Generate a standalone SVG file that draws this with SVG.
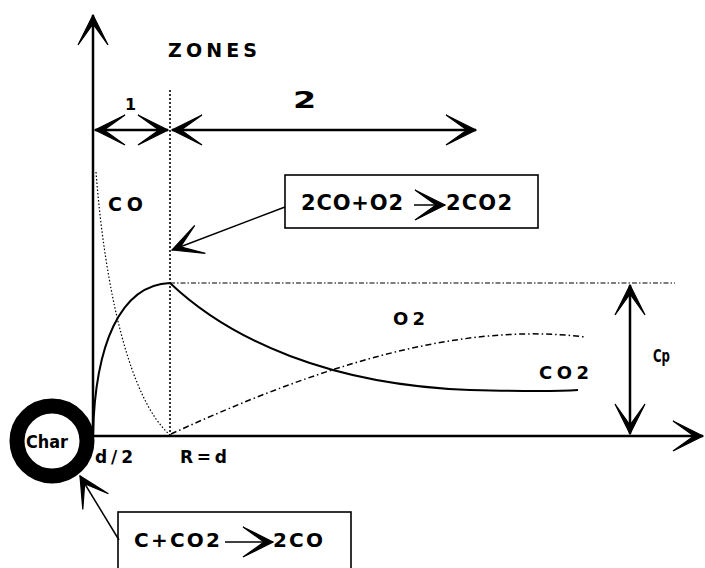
<svg xmlns="http://www.w3.org/2000/svg" width="705" height="568" viewBox="0 0 705 568">
  <style>
    text { font-family: "DejaVu Sans", "Liberation Sans", Arial, sans-serif; font-weight: bold; fill: #000; }
    .ax { stroke: #000; stroke-width: 2.5; fill: none; }
    .thin { stroke: #000; stroke-width: 1.5; fill: none; }
    .box { stroke: #000; stroke-width: 1.6; fill: #fff; }
    .dot { stroke: #000; stroke-width: 1.2; fill: none; stroke-dasharray: 1.5 2; }
    .vdot { stroke: #000; stroke-width: 1.6; fill: none; stroke-dasharray: 2 2; }
    .dashdot { stroke: #000; stroke-width: 1.5; fill: none; stroke-dasharray: 6 3 1.5 3; }
    .finedd { stroke: #000; stroke-width: 1.2; fill: none; stroke-dasharray: 5 2 1.5 2; }
    .solid { stroke: #000; stroke-width: 2; fill: none; }
  </style>
  <defs>
    <marker id="dart" markerUnits="userSpaceOnUse" viewBox="-31 -16 32 32" markerWidth="32" markerHeight="32" refX="0" refY="0" orient="auto-start-reverse">
      <path d="M0,0 L-30,-15 L-9,0 L-30,15 Z" fill="#000" stroke="#000" stroke-width="1.2" stroke-linejoin="miter"/>
    </marker>
  </defs>
  <rect width="705" height="568" fill="#fff"/>

  <!-- axes -->
  <g id="axes">
    <line class="ax" x1="93" y1="436" x2="93" y2="15" marker-end="url(#dart)"/>
    <line class="ax" x1="93" y1="436" x2="703" y2="436" marker-end="url(#dart)"/>
  </g>

  <!-- zone boundary and plateau level -->
  <g id="guides">
    <line class="vdot" x1="170" y1="90" x2="170" y2="436"/>
    <line class="finedd" x1="170" y1="283" x2="675" y2="283"/>
  </g>

  <!-- zone extents -->
  <g id="zones">
    <text x="168" y="57" font-size="19" textLength="89" lengthAdjust="spacing">ZONES</text>
    <line class="ax" x1="95" y1="130" x2="168" y2="130" stroke-width="2" marker-start="url(#dart)" marker-end="url(#dart)"/>
    <text x="125" y="110" font-size="16">1</text>
    <line class="ax" x1="172" y1="130" x2="476" y2="130" stroke-width="2" marker-start="url(#dart)" marker-end="url(#dart)"/>
    <text transform="translate(293,108) scale(1.45,1)" font-size="23">2</text>
  </g>

  <!-- concentration profiles -->
  <g id="curves">
    <path class="dot" d="M96,172 C105,290 130,400 170,435"/>
    <path class="solid" d="M93,435 C95,345 120,285 170,283 C230,340 330,385 470,390 C510,391 550,392 578,390"/>
    <path class="dashdot" d="M171,434 C300,375 450,320 585,337"/>
  </g>

  <!-- curve and axis labels -->
  <g id="labels">
    <text x="108" y="211" font-size="19" textLength="35" lengthAdjust="spacing">CO</text>
    <text x="393" y="325" font-size="18" textLength="32" lengthAdjust="spacing">O2</text>
    <text x="539" y="379" font-size="18" textLength="50" lengthAdjust="spacing">CO2</text>
    <text x="95" y="463" font-size="17" textLength="38" lengthAdjust="spacing">d/2</text>
    <text x="180" y="463" font-size="17" textLength="47" lengthAdjust="spacing">R=d</text>
  </g>

  <!-- plateau height Cp -->
  <g id="cp">
    <line class="ax" x1="630" y1="285" x2="630" y2="434" stroke-width="2" marker-start="url(#dart)" marker-end="url(#dart)"/>
    <text x="653" y="362" font-size="18" textLength="17" lengthAdjust="spacingAndGlyphs">Cp</text>
  </g>

  <!-- char particle -->
  <g id="char">
    <circle cx="52" cy="441" r="35" fill="#fff" stroke="#000" stroke-width="15"/>
    <text x="26" y="448" font-size="17" textLength="42" lengthAdjust="spacingAndGlyphs">Char</text>
  </g>

  <!-- homogeneous CO oxidation -->
  <g id="reaction-gas">
    <rect class="box" x="285" y="175" width="253" height="53"/>
    <text x="301" y="210" font-size="21" textLength="102" lengthAdjust="spacing">2CO+O2</text>
    <line class="thin" x1="414" y1="205" x2="445" y2="205" stroke-width="1" marker-end="url(#dart)"/>
    <text x="446" y="210" font-size="21" textLength="66" lengthAdjust="spacing">2CO2</text>
  </g>

  <!-- Boudouard reaction at the surface -->
  <g id="reaction-surface">
    <rect class="box" x="118" y="512" width="233" height="70"/>
    <text x="134" y="547" font-size="20" textLength="86" lengthAdjust="spacing">C+CO2</text>
    <line class="thin" x1="225" y1="542" x2="273" y2="542" stroke-width="1" marker-end="url(#dart)"/>
    <text x="273" y="547" font-size="20" textLength="50" lengthAdjust="spacing">2CO</text>
  </g>

  <!-- pointers -->
  <g id="connectors">
    <line class="thin" x1="285" y1="207" x2="172" y2="250" marker-end="url(#dart)"/>
    <line class="thin" x1="119" y1="540" x2="80" y2="476" marker-end="url(#dart)"/>
  </g>
</svg>
